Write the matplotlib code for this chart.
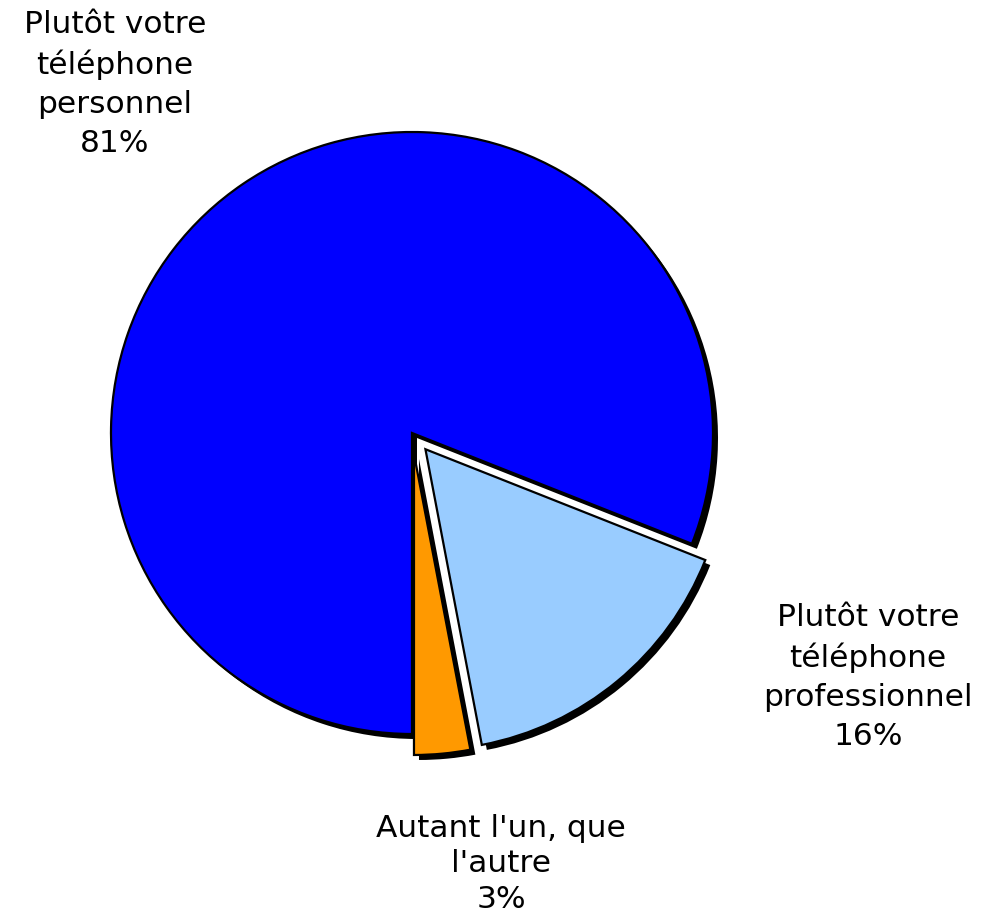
import matplotlib
matplotlib.use("Agg")
import matplotlib.pyplot as plt

# Data
labels = ["Plutôt votre\ntéléphone\npersonnel\n81%",
          "Plutôt votre\ntéléphone\nprofessionnel\n16%",
          "Autant l'un, que\nl'autre\n3%"]
values = [81, 16, 3]
colors = ["#0000FF", "#99CCFF", "#FF9900"]
explode = [0.0, 0.07, 0.07]

# label centres in pixels (x, y from top)
label_px = [(115, 84), (868, 677), (501, 864)]

W, H = 989, 921
R_PX = 301
CX, CY = 412, 433

fig = plt.figure(figsize=(W / 100, H / 100), dpi=100)
ax = fig.add_axes([0, 0, 1, 1])

shadow = 5 / R_PX
# shadow pie
ax.pie(values, explode=explode, colors=["black"] * 3, startangle=270,
       counterclock=False, center=(shadow, -shadow),
       wedgeprops={"linewidth": 0})
# main pie
ax.pie(values, explode=explode, colors=colors, startangle=270,
       counterclock=False,
       wedgeprops={"edgecolor": "black", "linewidth": 1.6})

ax.set_xlim(-CX / R_PX, (W - CX) / R_PX)
ax.set_ylim(-(H - CY) / R_PX, CY / R_PX)
ax.set_aspect("equal")
ax.axis("off")

for txt, (px, py) in zip(labels, label_px):
    ls = 1.3 if txt.startswith("Autant") else 1.42
    ax.text(px / W, 1 - py / H, txt, transform=ax.transAxes,
            ha="center", va="center", fontsize=22.5, linespacing=ls,
            family="DejaVu Sans", color="black")

fig.savefig("out.png", dpi=100)
